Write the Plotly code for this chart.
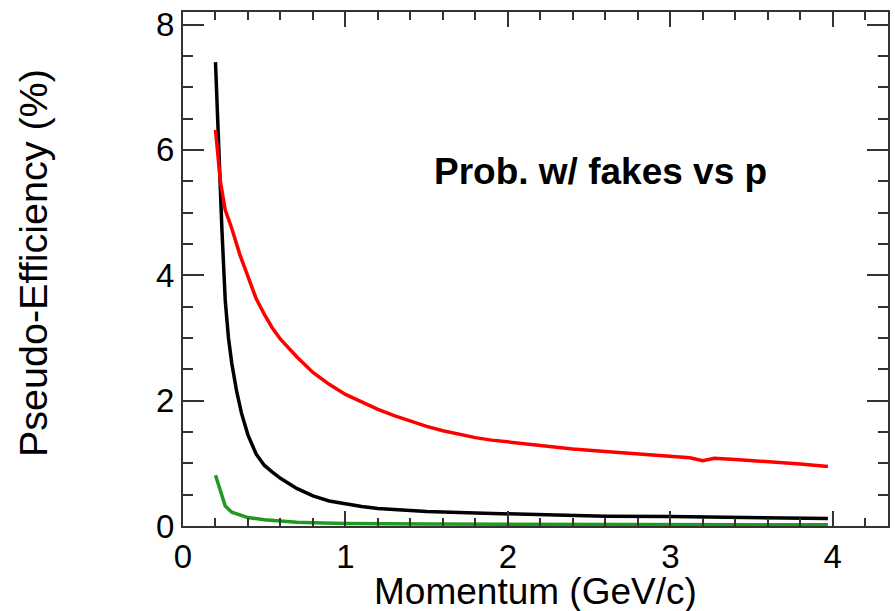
import plotly.graph_objects as go

# Data
black_x = [0.2, 0.22, 0.24, 0.26, 0.28, 0.3, 0.33, 0.36, 0.4, 0.45, 0.5, 0.55, 0.6, 0.7,
           0.8, 0.9, 1.0, 1.1, 1.2, 1.35, 1.5, 1.75, 2.0, 2.3, 2.6, 3.0, 3.5, 3.97]
black_y = [7.4, 6.0, 4.7, 3.6, 3.0, 2.6, 2.15, 1.8, 1.45, 1.15, 0.97, 0.86, 0.76, 0.6,
           0.48, 0.4, 0.35, 0.31, 0.28, 0.25, 0.23, 0.21, 0.19, 0.17, 0.155, 0.15, 0.13, 0.12]

red_x = [0.2, 0.23, 0.26, 0.3, 0.35, 0.4, 0.45, 0.5, 0.55, 0.6, 0.7, 0.8, 0.9, 1.0, 1.1,
         1.2, 1.3, 1.4, 1.5, 1.6, 1.7, 1.8, 1.9, 2.0, 2.2, 2.4, 2.6, 2.8, 3.0, 3.12, 3.2,
         3.27, 3.4, 3.6, 3.8, 3.97]
red_y = [6.32, 5.5, 5.04, 4.75, 4.33, 3.97, 3.63, 3.38, 3.16, 2.98, 2.7, 2.45, 2.26, 2.1,
         1.98, 1.86, 1.76, 1.67, 1.59, 1.52, 1.46, 1.41, 1.37, 1.34, 1.28, 1.23, 1.19, 1.15,
         1.12, 1.09, 1.04, 1.08, 1.06, 1.03, 0.99, 0.95]

green_x = [0.2, 0.26, 0.3, 0.35, 0.4, 0.5, 0.6, 0.7, 0.8, 1.0, 1.5, 2.0, 3.0, 3.97]
green_y = [0.81, 0.32, 0.22, 0.17, 0.135, 0.10, 0.075, 0.06, 0.05, 0.04, 0.03, 0.03,
           0.025, 0.02]

x_title = "Momentum (GeV/c)"
y_title = "Pseudo-Efficiency (%)"
label_text = "Prob. w/ fakes vs p"

FONT = "Liberation Sans, Arial, sans-serif"
AXC = "#333333"

fig = go.Figure()
fig.add_trace(go.Scatter(x=black_x, y=black_y, mode="lines",
                         line=dict(color="black", width=3.5), showlegend=False))
fig.add_trace(go.Scatter(x=red_x, y=red_y, mode="lines",
                         line=dict(color="#ff0000", width=3.5), showlegend=False))
fig.add_trace(go.Scatter(x=green_x, y=green_y, mode="lines",
                         line=dict(color="#1f9a1f", width=3.5), showlegend=False))

fig.add_annotation(x=2.57, y=5.65, xref="x", yref="y", text="<b>" + label_text + "</b>",
                   showarrow=False, font=dict(family=FONT, size=37, color="black"),
                   xanchor="center", yanchor="middle")
# axis titles
fig.add_annotation(x=0.5, y=0, xref="paper", yref="paper", text=x_title,
                   showarrow=False, font=dict(family=FONT, size=37, color="black"),
                   xanchor="center", yanchor="middle", yshift=-65, borderpad=0)
fig.add_annotation(x=0, y=0.5, xref="paper", yref="paper", text=y_title, textangle=-90,
                   showarrow=False, font=dict(family=FONT, size=39.5, color="black"),
                   xanchor="center", yanchor="middle", xshift=-150, yshift=6)

axis_common = dict(showgrid=False, zeroline=False, showline=True, linecolor=AXC,
                   linewidth=2, mirror="allticks", ticks="inside", tickcolor=AXC,
                   tickwidth=2, automargin=False,
                   tickfont=dict(family=FONT, size=33, color="black"))

fig.update_xaxes(range=[0, 4.34], dtick=1, tick0=0, ticklen=15,
                 minor=dict(dtick=0.2, ticks="inside", ticklen=8, tickcolor=AXC, tickwidth=2),
                 **axis_common)
fig.update_yaxes(range=[0, 8.2], dtick=2, tick0=0, ticklen=21,
                 minor=dict(dtick=0.5, ticks="inside", ticklen=10, tickcolor=AXC, tickwidth=2),
                 **axis_common)

fig.update_layout(width=895, height=611, plot_bgcolor="white", paper_bgcolor="white",
                  margin=dict(l=183, r=7, t=12, b=85))

fig.write_html("out.html")
